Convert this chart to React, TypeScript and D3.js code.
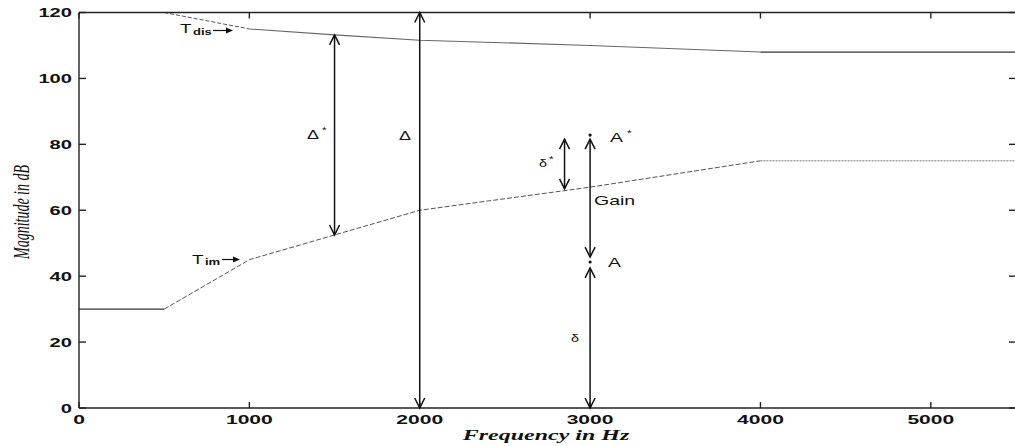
import React from "react";
import * as d3 from "d3";

// ---- data ----
const freqPoints = [0, 500, 1000, 1500, 2000, 3000, 4000, 5500];
const tDisMag = [120, 120, 115, 113.2, 111.6, 110, 108, 108];
const tImMag = [30, 30, 45, 52.5, 60, 67, 75, 75];
const xTicks = [0, 1000, 2000, 3000, 4000, 5000];
const yTicks = [0, 20, 40, 60, 80, 100, 120];

// vertical arrows: frequency, lower end, upper end
const arrowFreq = [1500, 2000, 2850, 3000, 3000];
const arrowLow = [52.5, 0, 66.5, 45.8, 0];
const arrowHigh = [113.2, 120, 81.6, 81.6, 42.5];
const dotFreq = [3000, 3000];
const dotMag = [82.8, 44.3];

const W = 1015;
const H = 446;
const M = { left: 79, right: 1016, top: 12.5, bottom: 408 };

const x = d3.scaleLinear().domain([0, 5500]).range([M.left, M.right]);
const y = d3.scaleLinear().domain([0, 120]).range([M.bottom, M.top]);

const sans = "'Liberation Sans', Arial, sans-serif";
const serif = "'Liberation Serif', 'Times New Roman', serif";

function STxt(props: any) {
  const { px, py, sx = 1.5, rot, children, ...rest } = props;
  return (
    <text
      transform={`translate(${px},${py}) scale(${sx},1)${rot ? ` rotate(${rot})` : ""}`}
      {...rest}
    >
      {children}
    </text>
  );
}

function head(xp: number, yp: number, dir: number) {
  // dir = -1 points up, +1 points down
  const l = 10;
  const w = 5;
  return `M${xp - w},${yp - dir * l}L${xp},${yp}L${xp + w},${yp - dir * l}`;
}

export default function App() {
  const line = d3
    .line<number>()
    .x((_, i) => 0)
    .y(() => 0);
  void line;
  const seg = (mags: number[], i0: number, i1: number) =>
    d3
      .line<number>()
      .x((f) => x(f))
      .y((f) => y(mags[freqPoints.indexOf(f)]))(freqPoints.slice(i0, i1 + 1)) || "";

  return (
    <svg
      width={W}
      height={H}
      style={{ position: "absolute", left: 0, top: 0, background: "#fff" }}
    >
      <rect width={W} height={H} fill="#fff" />
      {/* T_dis curve */}
      <path d={seg(tDisMag, 1, 2)} fill="none" stroke="#555" strokeWidth={1} strokeDasharray="4,2" />
      <path d={seg(tDisMag, 2, 6)} fill="none" stroke="#666" strokeWidth={1.1} />
      <path d={seg(tDisMag, 6, 7)} fill="none" stroke="#333" strokeWidth={1.2} />
      {/* T_im curve */}
      <path d={seg(tImMag, 0, 1)} fill="none" stroke="#333" strokeWidth={1.2} />
      <path d={seg(tImMag, 1, 6)} fill="none" stroke="#555" strokeWidth={1} strokeDasharray="5,2" />
      <path d={seg(tImMag, 6, 7)} fill="none" stroke="#777" strokeWidth={1} strokeDasharray="2,1" />

      {/* axes box */}
      <g stroke="#222" strokeWidth={1.4} fill="none">
        <line x1={M.left} x2={M.right} y1={M.bottom} y2={M.bottom} />
        <line x1={M.left} x2={M.right} y1={M.top} y2={M.top} />
        <line x1={M.left} x2={M.left} y1={M.top} y2={M.bottom} />
        <line x1={M.right} x2={M.right} y1={M.top} y2={M.bottom} />
        {xTicks.map((t) => (
          <g key={"xt" + t}>
            <line x1={x(t)} x2={x(t)} y1={M.bottom} y2={M.bottom - 6} />
            <line x1={x(t)} x2={x(t)} y1={M.top} y2={M.top + 6} />
          </g>
        ))}
        {yTicks.map((t) => (
          <g key={"yt" + t}>
            <line x1={M.left} x2={M.left + 7} y1={y(t)} y2={y(t)} />
            <line x1={M.right} x2={M.right - 7} y1={y(t)} y2={y(t)} />
          </g>
        ))}
      </g>

      {/* tick labels */}
      <g fontFamily={sans} fontWeight="bold" fontSize={13} fill="#111">
        {xTicks.map((t) => (
          <STxt key={"xl" + t} px={x(t)} py={424} sx={1.62} textAnchor="middle">
            {t}
          </STxt>
        ))}
        {yTicks.map((t) => (
          <STxt key={"yl" + t} px={72} py={y(t) + 4.7} sx={1.55} textAnchor="end">
            {t}
          </STxt>
        ))}
      </g>

      {/* axis titles */}
      <STxt px={546} py={440} sx={1.6} textAnchor="middle" fontFamily={serif} fontStyle="italic" fontWeight="bold" fontSize={15} fill="#111">
        Frequency in Hz
      </STxt>
      <STxt px={29} py={212} sx={1.6} rot={-90} textAnchor="middle" fontFamily={serif} fontStyle="italic" fontSize={14} fill="#111">
        Magnitude in dB
      </STxt>

      {/* arrows */}
      <g stroke="#111" strokeWidth={1.5} fill="none">
        {arrowFreq.map((f, i) => {
          const xp = x(f);
          const y0 = y(arrowLow[i]);
          const y1 = y(arrowHigh[i]);
          return (
            <g key={"ar" + i}>
              <line x1={xp} x2={xp} y1={y0} y2={y1} />
              <path d={head(xp, y1, -1)} />
              <path d={head(xp, y0, 1)} />
            </g>
          );
        })}
      </g>
      {dotFreq.map((f, i) => (
        <circle key={"dot" + i} cx={x(f)} cy={y(dotMag[i])} r={1.6} fill="#111" />
      ))}

      {/* annotation labels */}
      <g fontFamily={sans} fontSize={12} fill="#111">
        <STxt px={x(1338)} py={y(81.6)} sx={1.5}>Δ</STxt>
        <STxt px={x(1338) + 15} py={y(81.6) - 6} sx={1.3} fontSize={9}>*</STxt>
        <STxt px={x(1878)} py={y(81.4)} sx={1.5}>Δ</STxt>
        <STxt px={x(2700)} py={y(73.1)} sx={1.3} fontSize={11}>δ</STxt>
        <STxt px={x(2700) + 10} py={y(73.1) - 5} sx={1.3} fontSize={9}>*</STxt>
        <STxt px={x(3117)} py={y(80.7)} sx={1.5} fontSize={13}>A</STxt>
        <STxt px={x(3117) + 17} py={y(80.7) - 6} sx={1.3} fontSize={9}>*</STxt>
        <STxt px={x(3023)} py={y(61.6)} sx={1.5} fontSize={13}>Gain</STxt>
        <STxt px={x(3105)} py={y(42.8)} sx={1.5} fontSize={13}>A</STxt>
        <STxt px={x(2888)} py={y(20)} sx={1.3} fontSize={11}>δ</STxt>
      </g>

      {/* T_dis / T_im labels */}
      <g fontFamily={sans} fill="#111">
        <STxt px={x(593)} py={y(113.8)} sx={1.45} fontSize={13}>T</STxt>
        <STxt px={x(593) + 13} py={y(113.8) + 2} sx={1.45} fontSize={9} fontWeight="bold">dis</STxt>
        <line x1={213} x2={230} y1={30.5} y2={30.5} stroke="#111" strokeWidth={1.2} />
        <path d="M226,27.5L233,30.5L226,33.5Z" fill="#111" />
        <STxt px={x(663)} py={y(43.7)} sx={1.45} fontSize={13}>T</STxt>
        <STxt px={x(663) + 13} py={y(43.7) + 1} sx={1.45} fontSize={9} fontWeight="bold">im</STxt>
        <line x1={222} x2={237} y1={259.5} y2={259.5} stroke="#111" strokeWidth={1.2} />
        <path d="M233,256.5L240,259.5L233,262.5Z" fill="#111" />
      </g>
    </svg>
  );
}
